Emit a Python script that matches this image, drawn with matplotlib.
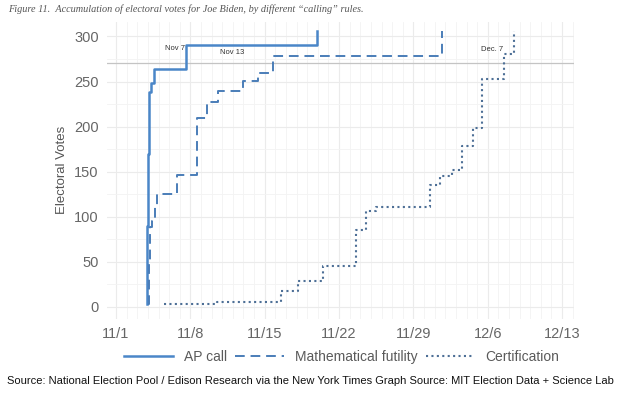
import datetime as dt

import matplotlib
matplotlib.use("Agg")
import matplotlib.pyplot as plt

plt.rcParams['font.family'] = ['Liberation Sans', 'DejaVu Sans']

# days after Nov 1, 2020 and cumulative electoral votes
ap_days = [2.88, 2.92, 2.96, 3.0, 3.05, 3.1, 3.15, 3.3, 3.58, 6.6, 18.9]
ap_votes = [3, 40, 90, 130, 170, 210, 238, 248, 264, 290, 306]

fut_days = [3.0, 3.1, 3.2, 3.4, 3.7, 3.9, 5.7, 7.6, 8.6, 9.6, 12.0, 13.4, 14.8, 30.7]
fut_votes = [3, 50, 89, 95, 112, 125, 146, 210, 227, 240, 251, 260, 278, 306]

cert_days = [4.5, 9.5, 15.5, 17.1, 19.5, 22.6, 23.5, 24.5, 29.6, 30.5, 31.6, 32.6,
             33.6, 34.5, 36.5, 37.5]
cert_votes = [3, 6, 18, 29, 45, 85, 106, 111, 135, 145, 152, 178, 198, 253, 281, 306]

tick_days = [0, 7, 14, 21, 28, 35, 42]
tick_labels = ['11/1', '11/8', '11/15', '11/22', '11/29', '12/6', '12/13']

notes = [('Nov 7', 6.5, 287, 'right'), ('Nov 13', 10.97, 282, 'center'),
         ('Dec. 7', 36.4, 286, 'right')]

start = dt.datetime(2020, 11, 1)


def to_dates(days):
    return [start + dt.timedelta(days=d) for d in days]


fig = plt.figure(figsize=(6.2, 3.93), dpi=100)
ax = fig.add_axes([0.1726, 0.189, 0.7534, 0.755])

ax.step(to_dates(ap_days), ap_votes, where='post', color='#4a86c8', lw=1.8,
        label='AP call')
ax.step(to_dates(fut_days), fut_votes, where='post', color='#4a7db8', lw=1.4,
        linestyle=(0, (5, 3)), label='Mathematical futility')
ax.step(to_dates(cert_days), cert_votes, where='post', color='#4d6f96', lw=1.5,
        linestyle=(0, (1, 1.6)), label='Certification')

ax.axhline(270, color='#c4c4c4', lw=0.9, zorder=1)

for txt, d, v, ha in notes:
    ax.text(start + dt.timedelta(days=d), v, txt, fontsize=5.5, color='#333333',
            ha=ha, va='center')

ax.set_xlim(start + dt.timedelta(days=-0.85), start + dt.timedelta(days=43.13))
ax.set_ylim(-13, 316)

ax.set_xticks(to_dates(tick_days))
ax.set_xticklabels(tick_labels)
ax.set_xticks(to_dates(range(0, 44)), minor=True)
ax.set_yticks(range(0, 301, 50))
ax.set_yticks(range(25, 301, 50), minor=True)

ax.grid(which='major', color='#ebebeb', lw=0.8)
ax.grid(which='minor', color='#f3f3f3', lw=0.6)
ax.set_axisbelow(True)
for s in ax.spines.values():
    s.set_visible(False)
ax.tick_params(which='both', length=0, colors='#666666', labelsize=10.5)
ax.tick_params(axis='y', pad=6)
ax.tick_params(axis='x', pad=6)
ax.set_ylabel('Electoral Votes', fontsize=9.5, color='#555555', labelpad=4)

fig.legend(loc='center', bbox_to_anchor=(0.551, 1 - 357 / 393), ncol=3,
           frameon=False, fontsize=10, handlelength=3.5, handletextpad=0.8,
           columnspacing=0.6, labelcolor='#5a5a5a')

fig.text(8 / 620, 1 - 9 / 393,
         'Figure 11.  Accumulation of electoral votes for Joe Biden, by different \u201ccalling\u201d rules.',
         fontsize=7.4, family='Liberation Serif', style='italic', color='#555555',
         va='center', ha='left')
fig.text(0.5, 1 - 381 / 393,
         'Source: National Election Pool / Edison Research via the New York Times Graph Source: MIT Election Data + Science Lab',
         fontsize=8, color='#111111', ha='center', va='center')

fig.savefig('out.png', dpi=100)
